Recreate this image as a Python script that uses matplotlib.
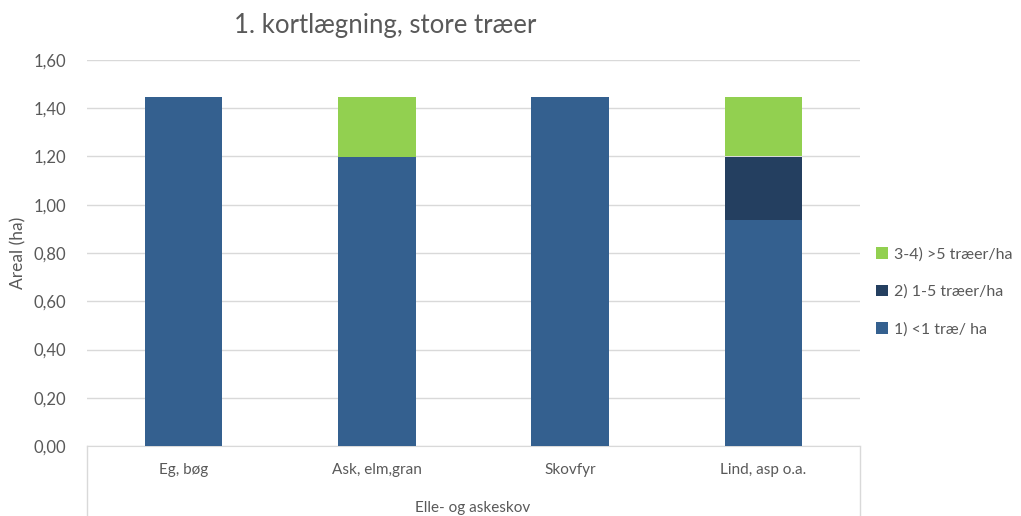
import numpy as np
import matplotlib.pyplot as plt
from matplotlib.ticker import FuncFormatter

plt.rcParams['font.family'] = ['Lato', 'DejaVu Sans']

categories = ['Eg, bøg', 'Ask, elm,gran', 'Skovfyr', 'Lind, asp o.a.']
group_label = 'Elle- og askeskov'
series_names = ['1) <1 træ/ ha', '2) 1-5 træer/ha', '3-4) >5 træer/ha']
under_1 = [1.445, 1.20, 1.445, 0.935]
from_1_to_5 = [0.0, 0.0, 0.0, 0.265]
over_5 = [0.0, 0.245, 0.0, 0.245]
colors = ['#34608f', '#243f60', '#92d050']

fig = plt.figure(figsize=(10.21, 5.16), dpi=100)
ax = fig.add_axes([87/1021, 1 - 446/516, (860-87)/1021, (446-60)/516])

x = np.arange(len(categories))
bottom = np.zeros(len(categories))
handles = []
for name, vals, c in zip(series_names, [under_1, from_1_to_5, over_5], colors):
    b = ax.bar(x, vals, width=0.4, bottom=bottom, color=c, label=name, zorder=3)
    handles.append(b)
    bottom += np.array(vals)

ax.set_xlim(-0.5, len(categories) - 0.5)
ax.set_ylim(0, 1.6)
ax.set_yticks(np.arange(0, 1.61, 0.2))
ax.yaxis.set_major_formatter(FuncFormatter(lambda v, p: f'{v:.2f}'.replace('.', ',')))
ax.grid(axis='y', color='#d9d9d9', linewidth=1, zorder=0)
for s in ['top', 'right', 'left']:
    ax.spines[s].set_visible(False)
ax.spines['bottom'].set_color('#d9d9d9')
ax.tick_params(axis='y', length=0, pad=15, labelsize=12, labelcolor='#595959')
ax.tick_params(axis='x', length=0, pad=12, labelsize=11, labelcolor='#595959')
ax.set_xticks(x)
ax.set_xticklabels(categories)

ax.set_ylabel('Areal (ha)', fontsize=12.5, color='#595959', labelpad=5)

# multi-level category box
for xp in [87/1021, 860/1021]:
    fig.add_artist(plt.Line2D([xp, xp], [0, 1 - 446/516], color='#d9d9d9', linewidth=1))
fig.text(473/1021, 1 - 508/516, group_label, ha='center', va='center', fontsize=11, color='#595959')

fig.text(385/1021, 1 - 26/516, '1. kortlægning, store træer', ha='center', va='center',
         fontsize=18.5, color='#595959')

leg = fig.legend(handles[::-1], series_names[::-1], loc='center left',
                 bbox_to_anchor=(862/1021, 1 - 292/516), frameon=False, fontsize=11.5,
                 handlelength=0.7, handleheight=0.7, handletextpad=0.4, labelspacing=1.45)
for t in leg.get_texts():
    t.set_color('#595959')

fig.savefig('out.png', dpi=100)
